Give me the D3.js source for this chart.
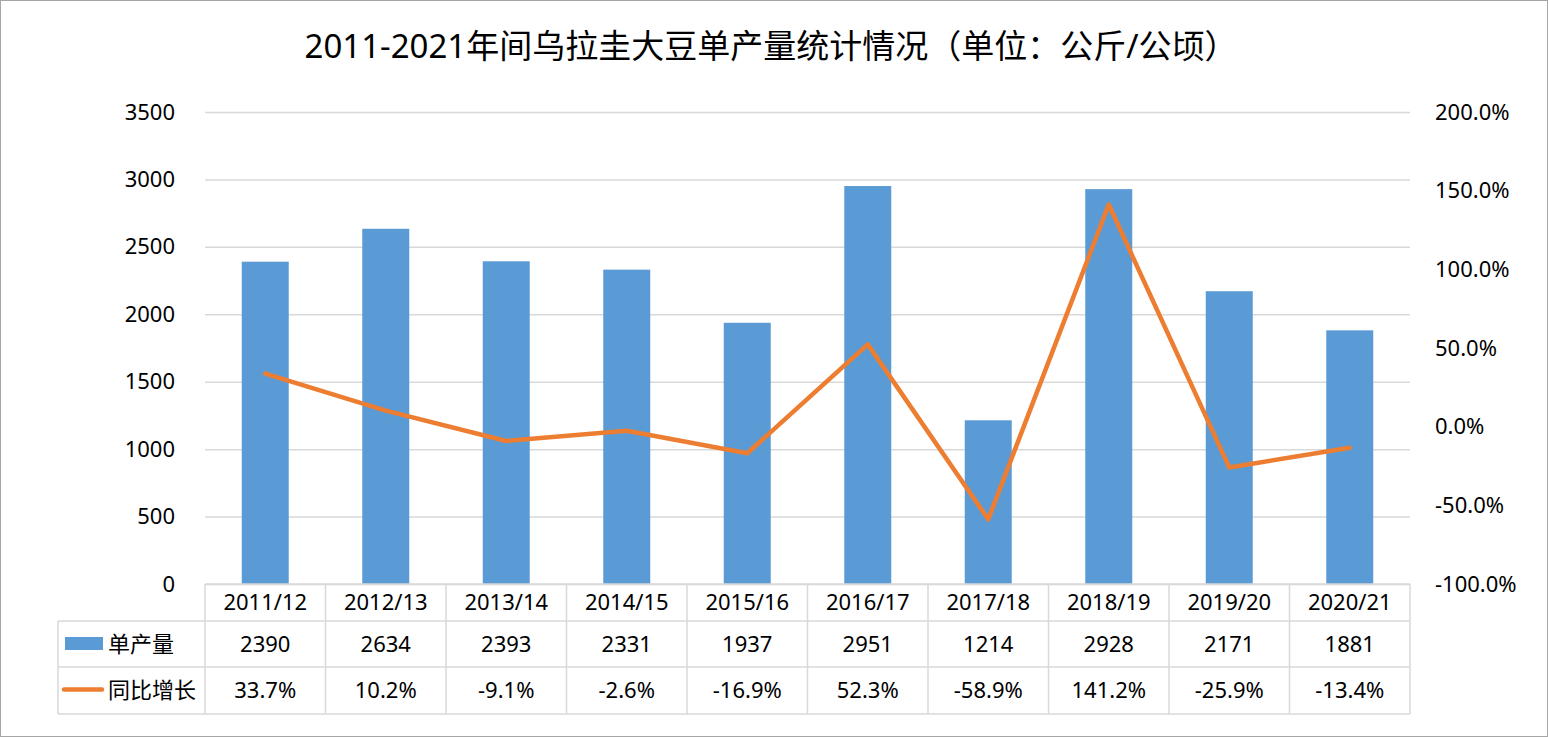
<!DOCTYPE html>
<meta charset="utf-8">
<style>
    body { margin: 0; background: #fff; }
    text { font-family: "Noto Sans", "Noto Sans CJK SC", sans-serif; fill: #000; }
</style>
<body>
<script src="https://d3js.org/d3.v7.min.js"></script>
<script>
    var categories = ["2011/12", "2012/13", "2013/14", "2014/15", "2015/16", "2016/17", "2017/18", "2018/19", "2019/20", "2020/21"];
    var yieldValues = [2390, 2634, 2393, 2331, 1937, 2951, 1214, 2928, 2171, 1881];
    var growthValues = [33.7, 10.2, -9.1, -2.6, -16.9, 52.3, -58.9, 141.2, -25.9, -13.4];
    var leftTicks = [0, 500, 1000, 1500, 2000, 2500, 3000, 3500];
    var rightTicks = [-100, -50, 0, 50, 100, 150, 200];
    var seriesNames = ["单产量", "同比增长"];
    var title = "2011-2021年间乌拉圭大豆单产量统计情况（单位：公斤/公顷）";

    var W = 1548, H = 737;
    var margin = {top: 112, left: 205, right: 138, bottom: 153};
    var width = W - margin.left - margin.right,
        height = H - margin.top - margin.bottom;
    var fs = "22px";

    var svg = d3.select("body").append("svg")
        .attr("width", W)
        .attr("height", H);

    // outer frame
    svg.append("rect")
        .attr("x", 0.5).attr("y", 0.5)
        .attr("width", W - 1).attr("height", H - 1)
        .attr("fill", "#fff")
        .attr("stroke", "#a6a6a6");

    svg.append("text")
        .attr("x", W / 2 - 3)
        .attr("y", 58)
        .attr("text-anchor", "middle")
        .style("font-size", "33px")
        .text(title);

    var g = svg.append("g")
        .attr("transform", "translate(" + margin.left + "," + margin.top + ")");

    var x = d3.scaleBand().domain(categories).range([0, width]).paddingInner(0.61).paddingOuter(0.305);
    var xCol = d3.scaleBand().domain(categories).range([0, width]);
    var y = d3.scaleLinear().domain([0, 3500]).range([height, 0]);
    var y2 = d3.scaleLinear().domain([-100, 200]).range([height, 0]);

    // gridlines
    g.append("g")
        .call(d3.axisLeft(y).tickValues(leftTicks).tickSize(-width).tickFormat(""))
        .call(function(a) {
            a.select(".domain").remove();
            a.selectAll("line").attr("stroke", "#d9d9d9").attr("stroke-width", 1.5);
        });

    // left axis labels
    g.append("g")
        .call(d3.axisLeft(y).tickValues(leftTicks).tickSize(0).tickPadding(30).tickFormat(d3.format("d")))
        .call(function(a) {
            a.select(".domain").remove();
            a.selectAll("text").style("font-size", fs).attr("fill", "#000");
        });

    // right axis labels
    g.append("g")
        .attr("transform", "translate(" + width + ",0)")
        .call(d3.axisRight(y2).tickValues(rightTicks).tickSize(0).tickPadding(25)
            .tickFormat(function(d) { return d.toFixed(1) + "%"; }))
        .call(function(a) {
            a.select(".domain").remove();
            a.selectAll("text").style("font-size", fs).attr("fill", "#000");
        });

    // bars
    g.selectAll(".bar")
        .data(yieldValues)
        .enter().append("rect")
        .attr("class", "bar")
        .attr("x", function(d, i) { return x(categories[i]); })
        .attr("width", x.bandwidth())
        .attr("y", function(d) { return y(d); })
        .attr("height", function(d) { return height - y(d); })
        .attr("fill", "#5b9bd5");

    // growth line
    var line = d3.line()
        .x(function(d, i) { return xCol(categories[i]) + xCol.bandwidth() / 2; })
        .y(function(d) { return y2(d); });

    g.append("path")
        .datum(growthValues)
        .attr("d", line)
        .attr("fill", "none")
        .attr("stroke", "#ed7d31")
        .attr("stroke-width", 4.5)
        .attr("stroke-linejoin", "round")
        .attr("stroke-linecap", "round");

    // data table
    var rowH = [37, 46, 47];
    var tableLeft = 58 - margin.left;
    var r0 = height, r1 = r0 + rowH[0], r2 = r1 + rowH[1], r3 = r2 + rowH[2];
    var tbl = g.append("g").attr("stroke", "#d9d9d9").attr("stroke-width", 1.5);

    // horizontal lines
    tbl.append("line").attr("x1", 0).attr("x2", width).attr("y1", r0).attr("y2", r0);
    [r1, r2, r3].forEach(function(yy) {
        tbl.append("line").attr("x1", tableLeft).attr("x2", width).attr("y1", yy).attr("y2", yy);
    });
    // vertical lines
    tbl.append("line").attr("x1", tableLeft).attr("x2", tableLeft).attr("y1", r1).attr("y2", r3);
    categories.forEach(function(c) {
        tbl.append("line").attr("x1", xCol(c)).attr("x2", xCol(c)).attr("y1", r0).attr("y2", r3);
    });
    tbl.append("line").attr("x1", width).attr("x2", width).attr("y1", r0).attr("y2", r3);

    var cells = g.append("g").style("font-size", fs).attr("text-anchor", "middle");
    categories.forEach(function(c, i) {
        var cx = xCol(c) + xCol.bandwidth() / 2;
        cells.append("text").attr("x", cx).attr("y", (r0 + r1) / 2).attr("dy", "0.35em").text(c);
        cells.append("text").attr("x", cx).attr("y", (r1 + r2) / 2).attr("dy", "0.35em").text(yieldValues[i]);
        cells.append("text").attr("x", cx).attr("y", (r2 + r3) / 2).attr("dy", "0.35em").text(growthValues[i].toFixed(1) + "%");
    });

    // legend keys in the table
    g.append("rect")
        .attr("x", tableLeft + 7).attr("y", (r1 + r2) / 2 - 7)
        .attr("width", 38).attr("height", 13)
        .attr("fill", "#5b9bd5");
    g.append("line")
        .attr("x1", tableLeft + 6).attr("x2", tableLeft + 44)
        .attr("y1", (r2 + r3) / 2 - 1).attr("y2", (r2 + r3) / 2 - 1)
        .attr("stroke", "#ed7d31").attr("stroke-width", 4.5).attr("stroke-linecap", "round");
    g.append("text")
        .attr("x", tableLeft + 50).attr("y", (r1 + r2) / 2).attr("dy", "0.35em")
        .style("font-size", fs).text(seriesNames[0]);
    g.append("text")
        .attr("x", tableLeft + 50).attr("y", (r2 + r3) / 2).attr("dy", "0.35em")
        .style("font-size", fs).text(seriesNames[1]);
</script>
</body>
